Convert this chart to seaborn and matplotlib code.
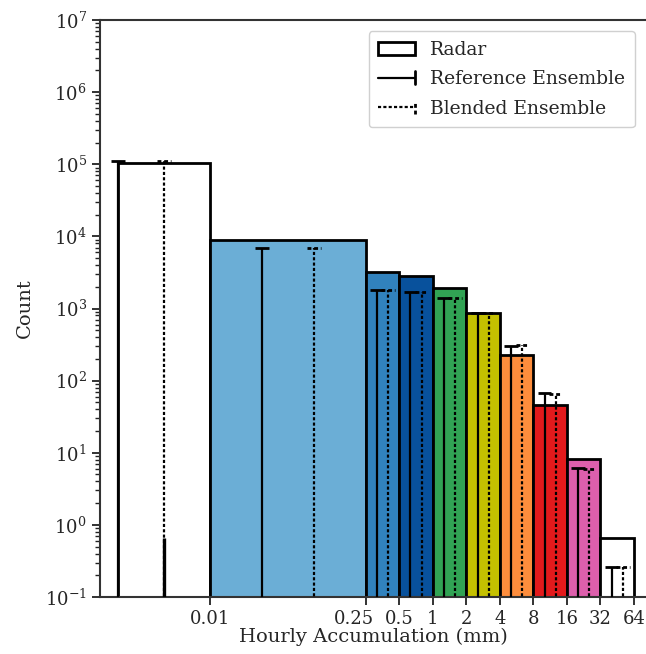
import numpy as np
import pandas as pd
import matplotlib
matplotlib.use("Agg")
import matplotlib.pyplot as plt
import seaborn as sns
from matplotlib.lines import Line2D
from matplotlib.patches import Patch
from matplotlib.legend_handler import HandlerBase
from matplotlib.transforms import ScaledTranslation
from matplotlib.ticker import LogLocator, FixedLocator, FixedFormatter, NullLocator

# ---------------- data ----------------
bin_edges = [0.0015, 0.01, 0.25, 0.5, 1, 2, 4, 8, 16, 32, 64]
tick_values = [0.01, 0.25, 0.5, 1, 2, 4, 8, 16, 32, 64]
tick_labels = ["0.01", "0.25", "0.5", "1", "2", "4", "8", "16", "32", "64"]
radar_counts = [1.05e5, 8.9e3, 3.2e3, 2.85e3, 1.95e3, 860, 230, 46, 8.1, 0.65]
reference_counts = [1.1e5, 6.9e3, 1.78e3, 1.68e3, 1.42e3, 870, 300, 68, 6.2, 0.26]
blended_counts = [1.1e5, 6.9e3, 1.78e3, 1.68e3, 1.42e3, 870, 310, 66, 6.0, 0.26]
blended_zero_bin_low = [0.65]
bar_colors = ["#ffffff", "#6baed6", "#3182bd", "#08519c", "#31a354",
              "#c4c000", "#fd8d3c", "#e31a1c", "#dd5fac", "#ffffff"]

# ---------------- style ----------------
sns.set_theme(style="ticks")
plt.rcParams["font.family"] = ["DejaVu Serif"]
plt.rcParams["mathtext.fontset"] = "dejavuserif"

fig = plt.figure(figsize=(6.46, 6.54), dpi=100)
ax = fig.add_axes([100 / 646, 57 / 654, 546 / 646, 577 / 654])
ax.set_yscale("log")

# x is drawn in log2 units of accumulation
edges_u = np.log2(np.array(bin_edges, dtype=float))
lo_u, hi_u = edges_u[:-1], edges_u[1:]
df = pd.DataFrame({"mid": (lo_u + hi_u) / 2, "count": radar_counts})

sns.histplot(data=df, x="mid", weights="count", bins=list(edges_u),
             ax=ax, stat="count", element="bars", fill=True,
             edgecolor="black", linewidth=2, alpha=1)
for patch, c in zip(ax.patches, bar_colors):
    patch.set_facecolor(c)
    patch.set_edgecolor("black")
    patch.set_linewidth(2)
    patch.set_alpha(1)

# ensemble stems at log-thirds of each bin
lo_anchor = lo_u.copy()
lo_anchor[0] = np.log2(0.00058)
ref_x = (2 * lo_anchor + hi_u) / 3
blend_x = (lo_anchor + 2 * hi_u) / 3
cap = 0.2
dotted = (0, (1.4, 1.0))
ymin_line = 1e-3

ax.vlines(ref_x, ymin_line, reference_counts, color="black", lw=1.6, zorder=3)
ax.hlines(reference_counts, ref_x - cap, ref_x + cap, color="black", lw=2, zorder=3)
ax.vlines(blend_x, ymin_line, blended_counts, color="black", lw=1.6,
          linestyles=[dotted], zorder=3)
ax.hlines(blended_counts, blend_x - cap, blend_x + cap, color="black", lw=2,
          linestyles=[dotted], zorder=3)
ax.vlines(blend_x[:1], ymin_line, blended_zero_bin_low, color="black", lw=2.4, zorder=3)

# ---------------- axes ----------------
ax.set_xlim(np.log2(0.00103), np.log2(82))
ax.set_ylim(0.1, 1e7)
ax.xaxis.set_major_locator(FixedLocator(list(np.log2(tick_values))))
ax.xaxis.set_major_formatter(FixedFormatter(tick_labels))
ax.xaxis.set_minor_locator(NullLocator())
ax.yaxis.set_major_locator(LogLocator(base=10, numticks=20))
ax.yaxis.set_minor_locator(LogLocator(base=10, subs=np.arange(2, 10), numticks=20))

ax.tick_params(axis="both", which="major", direction="out", length=6, width=1.3,
               labelsize=13, color="#222222")
ax.tick_params(axis="both", which="minor", direction="out", length=3.5, width=1.0,
               color="#222222")
ax.set_xlabel("Hourly Accumulation (mm)", fontsize=14, labelpad=0)
ax.set_ylabel("Count", fontsize=14, labelpad=8)

# nudge the crowded "0.25" label left, as in the reference
for tick in ax.xaxis.get_major_ticks():
    if tick.label1.get_text() == "0.25":
        tick.label1.set_transform(tick.label1.get_transform()
                                  + ScaledTranslation(-12 / 100, 0, fig.dpi_scale_trans))
fig.canvas.draw()
for tick in ax.xaxis.get_major_ticks():
    if tick.label1.get_text() == "0.25":
        tick.label1.set_transform(tick.label1.get_transform()
                                  + ScaledTranslation(-12 / 100, 0, fig.dpi_scale_trans))

for side in ["left", "bottom", "top"]:
    ax.spines[side].set_linewidth(1.5)
    ax.spines[side].set_color("#333333")
ax.spines["right"].set_visible(False)


class CapHandler(HandlerBase):
    def __init__(self, ls):
        super().__init__()
        self.ls = ls

    def create_artists(self, legend, orig_handle, xdescent, ydescent,
                       width, height, fontsize, trans):
        y = height / 2 - ydescent
        x1 = width - xdescent
        line = Line2D([-xdescent, x1], [y, y], color="black", lw=1.6,
                      linestyle=self.ls, transform=trans)
        capl = Line2D([x1, x1], [y - height * 0.5, y + height * 0.5],
                      color="black", lw=2, linestyle=self.ls, transform=trans)
        return [line, capl]


h_radar = Patch(facecolor="white", edgecolor="black", linewidth=2)
h_ref = Line2D([], [], color="black")
h_bl = Line2D([], [], color="black", linestyle=":")
ax.legend([h_radar, h_ref, h_bl], ["Radar", "Reference Ensemble", "Blended Ensemble"],
          handler_map={h_ref: CapHandler("-"), h_bl: CapHandler(dotted)},
          loc="upper right", fontsize=13.5, frameon=True, fancybox=True,
          framealpha=1, edgecolor="#d0d0d0", borderaxespad=0.6,
          labelspacing=0.62, borderpad=0.5)

fig.savefig("out.png", dpi=100)
